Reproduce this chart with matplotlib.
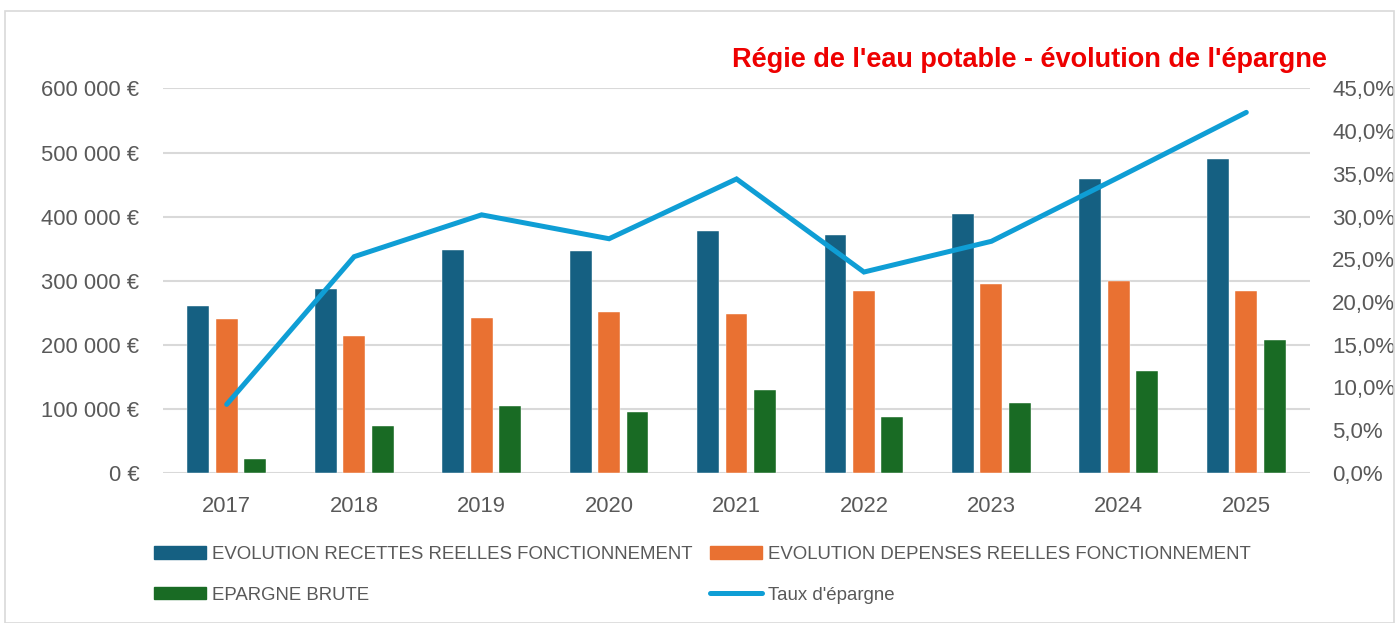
import matplotlib.pyplot as plt
import matplotlib.ticker as mticker
from matplotlib.patches import Rectangle, Patch
from matplotlib.lines import Line2D
import numpy as np

plt.rcParams['font.family'] = ['Liberation Sans', 'DejaVu Sans']

# data
years = ['2017', '2018', '2019', '2020', '2021', '2022', '2023', '2024', '2025']
recettes = [260400, 287000, 347400, 346900, 377000, 371400, 403600, 458900, 490600]
depenses = [239600, 214000, 242200, 251000, 247400, 284400, 294800, 300000, 283900]
epargne = [20800, 72400, 104700, 94800, 129200, 87000, 108900, 158900, 207300]
taux = [8.0, 25.3, 30.2, 27.4, 34.4, 23.5, 27.1, 34.6, 42.2]

c_rec = '#156082'
c_dep = '#E97132'
c_epa = '#196B24'
c_taux = '#0F9ED5'
txt = '#595959'

fig = plt.figure(figsize=(13.99, 6.23), dpi=100)
fig.patches.append(Rectangle((0.0035, 0.0), 0.993, 0.983, transform=fig.transFigure,
                             fill=False, edgecolor='#D9D9D9', linewidth=1.2))

ax = fig.add_axes([0.1165, 0.2413, 0.8199, 0.6167])
x = np.arange(len(years))
w = 0.172
step = 0.223
ax.bar(x - step, recettes, w, color=c_rec, edgecolor='white', linewidth=0.3, zorder=2)
ax.bar(x, depenses, w, color=c_dep, edgecolor='white', linewidth=0.3, zorder=2)
ax.bar(x + step, epargne, w, color=c_epa, edgecolor='white', linewidth=0.3, zorder=2)

ax.set_xlim(-0.5, len(years) - 0.5)
ax.set_ylim(0, 600000)
ax.set_yticks(np.arange(0, 600001, 100000))
ax.yaxis.set_major_formatter(mticker.FuncFormatter(
    lambda v, p: '{:,.0f} €'.format(v).replace(',', ' ')))
ax.set_xticks(x)
ax.set_xticklabels(years)
ax.grid(axis='y', color='#D9D9D9', linewidth=1.5, zorder=0)
ax.set_axisbelow(True)
for s in ax.spines.values():
    s.set_visible(False)
ax.tick_params(axis='both', length=0, labelsize=15.8, colors=txt)
ax.tick_params(axis='y', pad=17)
ax.tick_params(axis='x', pad=16.5)

ax2 = ax.twinx()
ax2.plot(x, taux, color=c_taux, linewidth=3.6, solid_capstyle='round',
         solid_joinstyle='miter', zorder=3)
ax2.set_ylim(0, 45)
ax2.set_yticks(np.arange(0, 45.1, 5))
ax2.yaxis.set_major_formatter(mticker.FuncFormatter(
    lambda v, p: '{:.1f}%'.format(v).replace('.', ',')))
for s in ax2.spines.values():
    s.set_visible(False)
ax2.tick_params(axis='y', length=0, labelsize=16, colors=txt, pad=16)

fig.text(0.9487, 0.8925, "Régie de l'eau potable - évolution de l'épargne",
         color='#EE0000', fontsize=19.5, fontweight='bold', ha='right', va='baseline')

h1 = [Patch(color=c_rec), Patch(color=c_epa)]
l1 = ['EVOLUTION RECETTES REELLES FONCTIONNEMENT', 'EPARGNE BRUTE']
h2 = [Patch(color=c_dep), Line2D([0], [0], color=c_taux, linewidth=3.6, solid_capstyle='round')]
l2 = ['EVOLUTION DEPENSES REELLES FONCTIONNEMENT', "Taux d'épargne"]
leg_kw = dict(loc='upper left', frameon=False, fontsize=13.4, handlelength=2.8,
              handleheight=0.66, handletextpad=0.32, labelspacing=1.26,
              labelcolor=txt, borderaxespad=0, borderpad=0)
fig.legend(h1, l1, bbox_to_anchor=(0.110, 0.1233), **leg_kw)
fig.legend(h2, l2, bbox_to_anchor=(0.5075, 0.1233), **leg_kw)

fig.savefig('out.png', dpi=100)
